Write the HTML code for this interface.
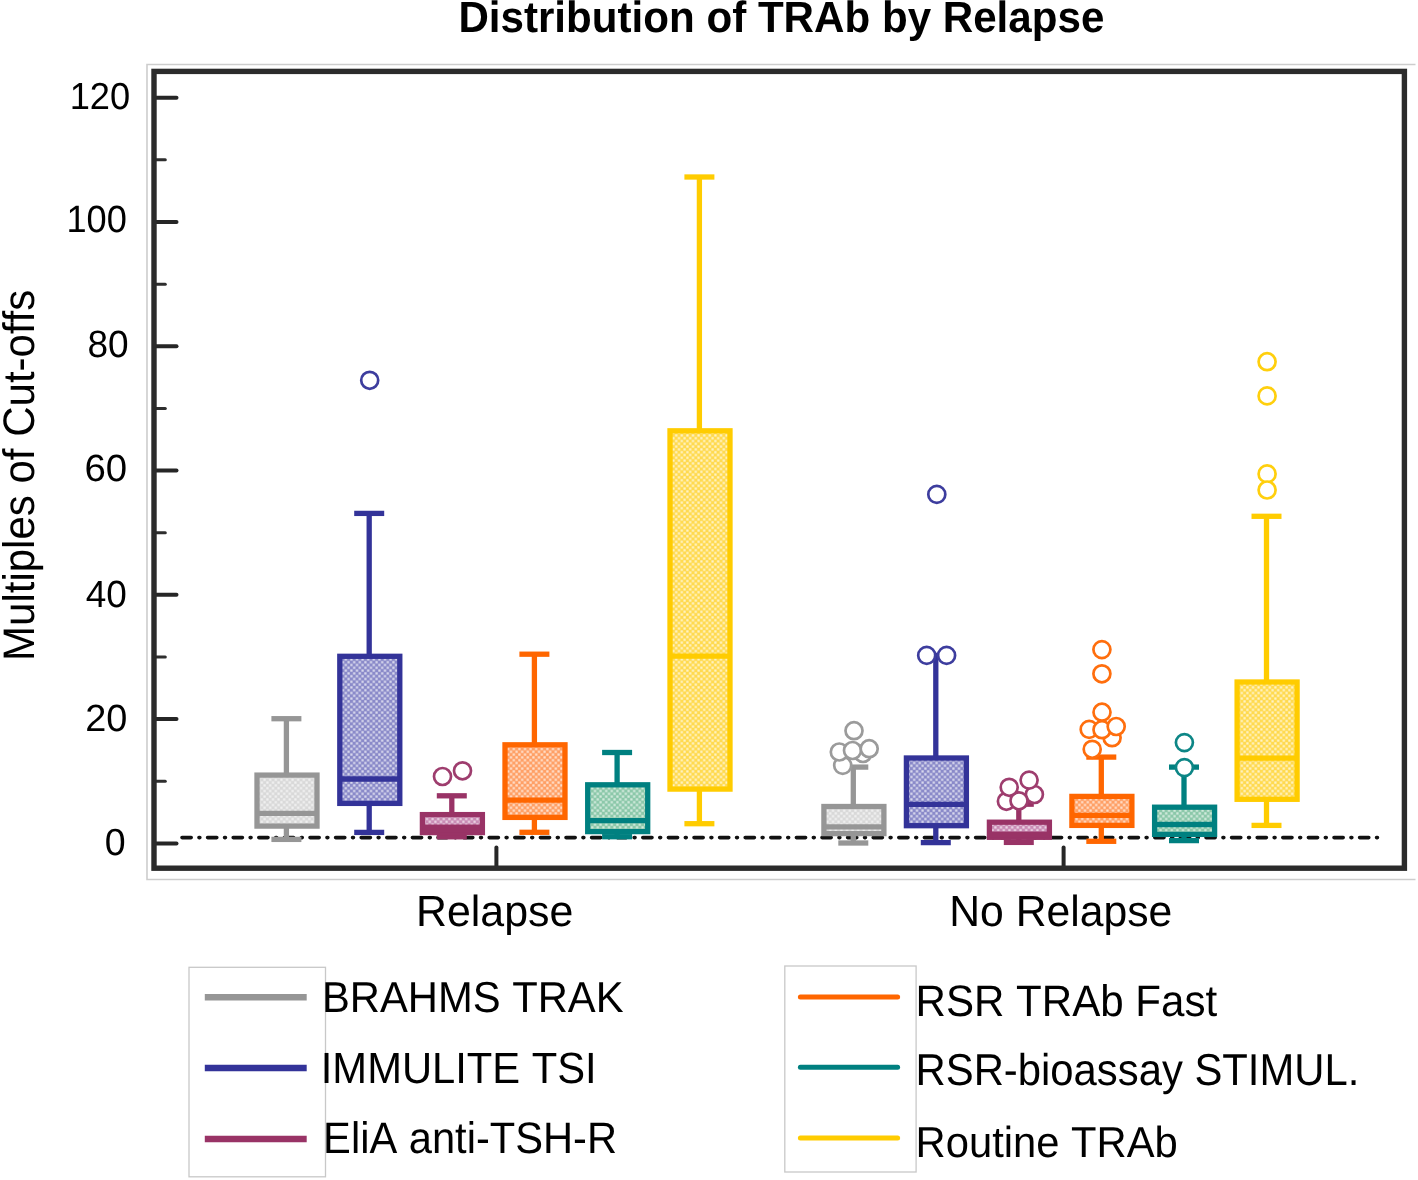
<!DOCTYPE html>
<html><head><meta charset="utf-8"><style>
html,body{margin:0;padding:0;background:#fff;width:1418px;height:1180px;overflow:hidden}
svg{display:block;filter:blur(0.5px)}
text{font-family:"Liberation Sans",sans-serif;fill:#000;font-kerning:none;text-rendering:geometricPrecision}
</style></head><body>
<svg width="1418" height="1180" viewBox="0 0 1418 1180">
<defs>
<pattern id="pgray" width="5.6" height="5.6" patternUnits="userSpaceOnUse"><rect width="5.6" height="5.6" fill="#d9d9d9"/><rect x="0.3" y="0.3" width="2.2" height="2.2" fill="#f3f3f3"/><rect x="3.1" y="3.1" width="2.2" height="2.2" fill="#f3f3f3"/></pattern>
<pattern id="pblue" width="5.6" height="5.6" patternUnits="userSpaceOnUse"><rect width="5.6" height="5.6" fill="#8a8ac9"/><rect x="0.3" y="0.3" width="2.2" height="2.2" fill="#dedef0"/><rect x="3.1" y="3.1" width="2.2" height="2.2" fill="#dedef0"/></pattern>
<pattern id="ppurple" width="5.6" height="5.6" patternUnits="userSpaceOnUse"><rect width="5.6" height="5.6" fill="#c98cb5"/><rect x="0.3" y="0.3" width="2.2" height="2.2" fill="#eedae8"/><rect x="3.1" y="3.1" width="2.2" height="2.2" fill="#eedae8"/></pattern>
<pattern id="porange" width="5.6" height="5.6" patternUnits="userSpaceOnUse"><rect width="5.6" height="5.6" fill="#ffa066"/><rect x="0.3" y="0.3" width="2.2" height="2.2" fill="#ffe4d2"/><rect x="3.1" y="3.1" width="2.2" height="2.2" fill="#ffe4d2"/></pattern>
<pattern id="pteal" width="5.6" height="5.6" patternUnits="userSpaceOnUse"><rect width="5.6" height="5.6" fill="#8cc8aa"/><rect x="0.3" y="0.3" width="2.2" height="2.2" fill="#d7ede1"/><rect x="3.1" y="3.1" width="2.2" height="2.2" fill="#d7ede1"/></pattern>
<pattern id="pyellow" width="5.6" height="5.6" patternUnits="userSpaceOnUse"><rect width="5.6" height="5.6" fill="#ffda50"/><rect x="0.3" y="0.3" width="2.2" height="2.2" fill="#fff5cd"/><rect x="3.1" y="3.1" width="2.2" height="2.2" fill="#fff5cd"/></pattern>
</defs>
<rect width="1418" height="1180" fill="#fff"/>
<text transform="translate(458.39 32.00) scale(1 1.0383)" font-size="42.13" font-weight="bold">Distribution of TRAb by Relapse</text>
<path d="M1415.5 64.5H147V879.5H1415.5" fill="none" stroke="#cdcdcd" stroke-width="1.6"/>
<line x1="154" y1="843.4" x2="176.5" y2="843.4" stroke="#262626" stroke-width="4" stroke-linecap="round"/>
<line x1="154" y1="781.26" x2="165.3" y2="781.26" stroke="#2e2e2e" stroke-width="3" stroke-linecap="round"/>
<line x1="154" y1="719.12" x2="176.5" y2="719.12" stroke="#262626" stroke-width="4" stroke-linecap="round"/>
<line x1="154" y1="656.98" x2="165.3" y2="656.98" stroke="#2e2e2e" stroke-width="3" stroke-linecap="round"/>
<line x1="154" y1="594.84" x2="176.5" y2="594.84" stroke="#262626" stroke-width="4" stroke-linecap="round"/>
<line x1="154" y1="532.7" x2="165.3" y2="532.7" stroke="#2e2e2e" stroke-width="3" stroke-linecap="round"/>
<line x1="154" y1="470.56" x2="176.5" y2="470.56" stroke="#262626" stroke-width="4" stroke-linecap="round"/>
<line x1="154" y1="408.42" x2="165.3" y2="408.42" stroke="#2e2e2e" stroke-width="3" stroke-linecap="round"/>
<line x1="154" y1="346.28" x2="176.5" y2="346.28" stroke="#262626" stroke-width="4" stroke-linecap="round"/>
<line x1="154" y1="284.14" x2="165.3" y2="284.14" stroke="#2e2e2e" stroke-width="3" stroke-linecap="round"/>
<line x1="154" y1="222" x2="176.5" y2="222" stroke="#262626" stroke-width="4" stroke-linecap="round"/>
<line x1="154" y1="159.86" x2="165.3" y2="159.86" stroke="#2e2e2e" stroke-width="3" stroke-linecap="round"/>
<line x1="154" y1="97.72" x2="176.5" y2="97.72" stroke="#262626" stroke-width="4" stroke-linecap="round"/>
<text transform="translate(69.68 108.87) scale(1 1.0393)" font-size="36.28">120</text>
<text transform="translate(66.47 231.83) scale(1 1.0520)" font-size="36.20">100</text>
<text transform="translate(87.52 356.56) scale(1 1.0272)" font-size="37.02">80</text>
<text transform="translate(84.51 480.71) scale(1 0.9856)" font-size="38.38">60</text>
<text transform="translate(85.73 607.03) scale(1 1.0255)" font-size="37.00">40</text>
<text transform="translate(85.16 731.10) scale(1 0.9985)" font-size="37.88">20</text>
<text transform="translate(104.74 855.29) scale(1 1.0041)" font-size="37.56">0</text>
<line x1="496.4" y1="847.4" x2="496.4" y2="866" stroke="#262626" stroke-width="4" stroke-linecap="round"/>
<line x1="1063.6" y1="847.4" x2="1063.6" y2="866" stroke="#262626" stroke-width="4" stroke-linecap="round"/>
<line x1="182" y1="837.6" x2="1378" y2="837.6" stroke="#111" stroke-width="3.6" stroke-linecap="round" stroke-dasharray="9.2 7.75 0.9 7.75"/>
<g stroke="#969696" stroke-width="5.3" fill="none"><line x1="286.4" y1="718.7" x2="286.4" y2="775.1"/><line x1="286.4" y1="826.1" x2="286.4" y2="839.4"/><line x1="271.4" y1="718.7" x2="301.4" y2="718.7"/><line x1="271.4" y1="839.4" x2="301.4" y2="839.4"/><rect x="257" y="775.1" width="60" height="51" fill="url(#pgray)"/><line x1="257" y1="813.4" x2="317" y2="813.4"/></g>
<g stroke="#333399" stroke-width="5.3" fill="none"><line x1="369.2" y1="513.4" x2="369.2" y2="656.3"/><line x1="369.2" y1="803.4" x2="369.2" y2="832.4"/><line x1="354.2" y1="513.4" x2="384.2" y2="513.4"/><line x1="354.2" y1="832.4" x2="384.2" y2="832.4"/><rect x="339.8" y="656.3" width="60" height="147.1" fill="url(#pblue)"/><line x1="339.8" y1="779" x2="399.8" y2="779"/></g>
<circle cx="369.7" cy="380.3" r="8.5" fill="#fff" stroke="#3d3d9e" stroke-width="2.7"/>
<g stroke="#993366" stroke-width="5.3" fill="none"><line x1="451.8" y1="795.8" x2="451.8" y2="814.6"/><line x1="451.8" y1="832.6" x2="451.8" y2="836.8"/><line x1="436.8" y1="795.8" x2="466.8" y2="795.8"/><line x1="436.8" y1="836.8" x2="466.8" y2="836.8"/><rect x="422.4" y="814.6" width="60" height="18" fill="url(#ppurple)"/><line x1="422.4" y1="827.1" x2="482.4" y2="827.1"/><rect x="422.4" y="827.1" width="60" height="5.5" fill="#993366" stroke="none"/></g>
<circle cx="442.5" cy="776.5" r="8.5" fill="#fff" stroke="#9e3d6e" stroke-width="2.7"/>
<circle cx="462.5" cy="770.8" r="8.5" fill="#fff" stroke="#9e3d6e" stroke-width="2.7"/>
<g stroke="#ff6600" stroke-width="5.3" fill="none"><line x1="534.4" y1="654.2" x2="534.4" y2="744.8"/><line x1="534.4" y1="817.4" x2="534.4" y2="832.3"/><line x1="519.4" y1="654.2" x2="549.4" y2="654.2"/><line x1="519.4" y1="832.3" x2="549.4" y2="832.3"/><rect x="505" y="744.8" width="60" height="72.6" fill="url(#porange)"/><line x1="505" y1="800.2" x2="565" y2="800.2"/></g>
<g stroke="#008080" stroke-width="5.3" fill="none"><line x1="617.1" y1="752.5" x2="617.1" y2="784.8"/><line x1="617.1" y1="831.6" x2="617.1" y2="836.7"/><line x1="602.1" y1="752.5" x2="632.1" y2="752.5"/><line x1="602.1" y1="836.7" x2="632.1" y2="836.7"/><rect x="587.7" y="784.8" width="60" height="46.8" fill="url(#pteal)"/><line x1="587.7" y1="820.7" x2="647.7" y2="820.7"/></g>
<g stroke="#ffcc00" stroke-width="5.3" fill="none"><line x1="699.4" y1="177" x2="699.4" y2="430.8"/><line x1="699.4" y1="789.1" x2="699.4" y2="823.7"/><line x1="684.4" y1="177" x2="714.4" y2="177"/><line x1="684.4" y1="823.7" x2="714.4" y2="823.7"/><rect x="670" y="430.8" width="60" height="358.3" fill="url(#pyellow)"/><line x1="670" y1="656.1" x2="730" y2="656.1"/></g>
<g stroke="#969696" stroke-width="5.3" fill="none"><line x1="853.3" y1="767.1" x2="853.3" y2="806.5"/><line x1="853.3" y1="833.6" x2="853.3" y2="843"/><line x1="838.3" y1="767.1" x2="868.3" y2="767.1"/><line x1="838.3" y1="843" x2="868.3" y2="843"/><rect x="823.9" y="806.5" width="60" height="27.1" fill="url(#pgray)"/><line x1="823.9" y1="826.9" x2="883.9" y2="826.9"/></g>
<circle cx="842.7" cy="765.4" r="8.5" fill="#fff" stroke="#9b9b9b" stroke-width="2.7"/>
<circle cx="863" cy="753.5" r="8.5" fill="#fff" stroke="#9b9b9b" stroke-width="2.7"/>
<circle cx="839.3" cy="752" r="8.5" fill="#fff" stroke="#9b9b9b" stroke-width="2.7"/>
<circle cx="852.5" cy="750.5" r="8.5" fill="#fff" stroke="#9b9b9b" stroke-width="2.7"/>
<circle cx="869.2" cy="748.7" r="8.5" fill="#fff" stroke="#9b9b9b" stroke-width="2.7"/>
<circle cx="854" cy="730.7" r="8.5" fill="#fff" stroke="#9b9b9b" stroke-width="2.7"/>
<g stroke="#333399" stroke-width="5.3" fill="none"><line x1="935.8" y1="655.4" x2="935.8" y2="758"/><line x1="935.8" y1="825.7" x2="935.8" y2="842.6"/><line x1="920.8" y1="655.4" x2="950.8" y2="655.4"/><line x1="920.8" y1="842.6" x2="950.8" y2="842.6"/><rect x="906.4" y="758" width="60" height="67.7" fill="url(#pblue)"/><line x1="906.4" y1="804.4" x2="966.4" y2="804.4"/></g>
<circle cx="936.8" cy="494.4" r="8.5" fill="#fff" stroke="#3d3d9e" stroke-width="2.7"/>
<circle cx="926.7" cy="655.4" r="8.5" fill="#fff" stroke="#3d3d9e" stroke-width="2.7"/>
<circle cx="946.6" cy="655.4" r="8.5" fill="#fff" stroke="#3d3d9e" stroke-width="2.7"/>
<g stroke="#993366" stroke-width="5.3" fill="none"><line x1="1018.8" y1="804.2" x2="1018.8" y2="822.2"/><line x1="1018.8" y1="837.3" x2="1018.8" y2="842.4"/><line x1="1003.8" y1="804.2" x2="1033.8" y2="804.2"/><line x1="1003.8" y1="842.4" x2="1033.8" y2="842.4"/><rect x="989.4" y="822.2" width="60" height="15.1" fill="url(#ppurple)"/><line x1="989.4" y1="834.1" x2="1049.4" y2="834.1"/><rect x="989.4" y="834.1" width="60" height="3.2" fill="#993366" stroke="none"/></g>
<circle cx="1006.4" cy="801.3" r="8.5" fill="#fff" stroke="#9e3d6e" stroke-width="2.7"/>
<circle cx="1034.4" cy="794.5" r="8.5" fill="#fff" stroke="#9e3d6e" stroke-width="2.7"/>
<circle cx="1019" cy="800.8" r="8.5" fill="#fff" stroke="#9e3d6e" stroke-width="2.7"/>
<circle cx="1009.2" cy="787.3" r="8.5" fill="#fff" stroke="#9e3d6e" stroke-width="2.7"/>
<circle cx="1029.1" cy="780.1" r="8.5" fill="#fff" stroke="#9e3d6e" stroke-width="2.7"/>
<g stroke="#ff6600" stroke-width="5.3" fill="none"><line x1="1101.3" y1="757.1" x2="1101.3" y2="796.4"/><line x1="1101.3" y1="825.4" x2="1101.3" y2="841.3"/><line x1="1086.3" y1="757.1" x2="1116.3" y2="757.1"/><line x1="1086.3" y1="841.3" x2="1116.3" y2="841.3"/><rect x="1071.9" y="796.4" width="60" height="29" fill="url(#porange)"/><line x1="1071.9" y1="815.4" x2="1131.9" y2="815.4"/></g>
<circle cx="1112.1" cy="737.7" r="8.5" fill="#fff" stroke="#ff6e0d" stroke-width="2.7"/>
<circle cx="1092.2" cy="749.3" r="8.5" fill="#fff" stroke="#ff6e0d" stroke-width="2.7"/>
<circle cx="1089.2" cy="729.4" r="8.5" fill="#fff" stroke="#ff6e0d" stroke-width="2.7"/>
<circle cx="1102" cy="729.7" r="8.5" fill="#fff" stroke="#ff6e0d" stroke-width="2.7"/>
<circle cx="1116.2" cy="726.5" r="8.5" fill="#fff" stroke="#ff6e0d" stroke-width="2.7"/>
<circle cx="1102" cy="712.2" r="8.5" fill="#fff" stroke="#ff6e0d" stroke-width="2.7"/>
<circle cx="1101.9" cy="673.8" r="8.5" fill="#fff" stroke="#ff6e0d" stroke-width="2.7"/>
<circle cx="1101.9" cy="649.6" r="8.5" fill="#fff" stroke="#ff6e0d" stroke-width="2.7"/>
<g stroke="#008080" stroke-width="5.3" fill="none"><line x1="1184" y1="767.1" x2="1184" y2="807.2"/><line x1="1184" y1="834.4" x2="1184" y2="840.6"/><line x1="1169" y1="767.1" x2="1199" y2="767.1"/><line x1="1169" y1="840.6" x2="1199" y2="840.6"/><rect x="1154.6" y="807.2" width="60" height="27.2" fill="url(#pteal)"/><line x1="1154.6" y1="824.5" x2="1214.6" y2="824.5"/></g>
<circle cx="1184.4" cy="742.6" r="8.5" fill="#fff" stroke="#0d8686" stroke-width="2.7"/>
<circle cx="1184.4" cy="767.6" r="8.5" fill="#fff" stroke="#0d8686" stroke-width="2.7"/>
<g stroke="#ffcc00" stroke-width="5.3" fill="none"><line x1="1266.5" y1="516.3" x2="1266.5" y2="682"/><line x1="1266.5" y1="799.3" x2="1266.5" y2="825.4"/><line x1="1251.5" y1="516.3" x2="1281.5" y2="516.3"/><line x1="1251.5" y1="825.4" x2="1281.5" y2="825.4"/><rect x="1237.1" y="682" width="60" height="117.3" fill="url(#pyellow)"/><line x1="1237.1" y1="758.2" x2="1297.1" y2="758.2"/></g>
<circle cx="1267.1" cy="361.7" r="8.5" fill="#fff" stroke="#ffcf0d" stroke-width="2.7"/>
<circle cx="1267.1" cy="395.9" r="8.5" fill="#fff" stroke="#ffcf0d" stroke-width="2.7"/>
<circle cx="1267.1" cy="473.9" r="8.5" fill="#fff" stroke="#ffcf0d" stroke-width="2.7"/>
<circle cx="1267.1" cy="490" r="8.5" fill="#fff" stroke="#ffcf0d" stroke-width="2.7"/>
<rect x="154" y="71.4" width="1250.4" height="796.8" fill="none" stroke="#2b2b2b" stroke-width="5.4"/>
<text transform="translate(415.99 926.40) scale(1 1.0156)" font-size="42.88">Relapse</text>
<text transform="translate(949.28 926.40) scale(1 1.0205)" font-size="42.68">No Relapse</text>
<text transform="translate(34.40 660.98) rotate(-90) scale(1 1.0510)" font-size="42.03">Multiples of Cut-offs</text>
<rect x="189" y="967.3" width="136.5" height="209.5" fill="none" stroke="#c8c8c8" stroke-width="1.3"/>
<rect x="784.8" y="966" width="131.3" height="206" fill="none" stroke="#c8c8c8" stroke-width="1.3"/>
<line x1="204.8" y1="997.2" x2="306.7" y2="997.2" stroke="#969696" stroke-width="6.5"/>
<line x1="204.8" y1="1068.1" x2="306.7" y2="1068.1" stroke="#333399" stroke-width="6.5"/>
<line x1="204.8" y1="1139.1" x2="306.7" y2="1139.1" stroke="#993366" stroke-width="6.5"/>
<line x1="800.4" y1="996.9" x2="897.6" y2="996.9" stroke="#ff6600" stroke-width="5" stroke-linecap="round"/>
<line x1="800.4" y1="1067.3" x2="897.6" y2="1067.3" stroke="#008080" stroke-width="5" stroke-linecap="round"/>
<line x1="800.4" y1="1138.1" x2="897.6" y2="1138.1" stroke="#ffcc00" stroke-width="5" stroke-linecap="round"/>
<text transform="translate(321.91 1012.00) scale(1 1.0374)" font-size="41.78">BRAHMS TRAK</text>
<text transform="translate(320.77 1083.00) scale(1 1.0468)" font-size="41.74">IMMULITE TSI</text>
<text transform="translate(323.10 1153.40) scale(1 1.0588)" font-size="41.66">EliA anti-TSH-R</text>
<text transform="translate(915.53 1016.20) scale(1 1.0465)" font-size="42.08">RSR TRAb Fast</text>
<text transform="translate(915.58 1084.80) scale(1 1.0665)" font-size="41.82">RSR-bioassay STIMUL.</text>
<text transform="translate(915.59 1157.20) scale(1 1.0391)" font-size="41.74">Routine TRAb</text>
</svg>
</body></html>
